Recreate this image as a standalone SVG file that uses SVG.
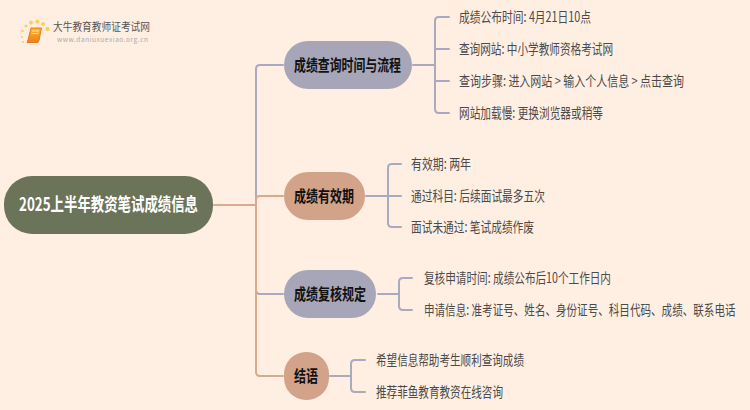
<svg xmlns="http://www.w3.org/2000/svg" width="750" height="410" viewBox="0 0 750 410">
<style>
text{font-family:"Noto Sans CJK SC","Noto Sans",sans-serif}
.leaf{font-size:14px;fill:#4a4a4a}
.head{font-size:16px;font-weight:700;fill:#111}
.c{fill:none;stroke-width:2;stroke-linecap:round}
.p{stroke:#a9a9bf}
.o{stroke:#dba98e}
</style>
<defs>
<linearGradient id="book" x1="0" y1="0" x2="0" y2="1"><stop offset="0" stop-color="#fbb92c"/><stop offset="1" stop-color="#ee7f16"/></linearGradient>
</defs>
<rect width="750" height="410" fill="#ffefe3"/>
<g id="logo">
<g fill="#fbcf5e"><circle cx="37.500" cy="21.500" r="2"/><circle cx="31" cy="22.500" r="2"/><circle cx="43" cy="24" r="2"/><circle cx="47.500" cy="29" r="2.200"/><circle cx="26" cy="26" r="1.600"/><circle cx="22.500" cy="31" r="1.300"/><circle cx="22" cy="37" r="1.100"/><circle cx="23" cy="42" r="1"/></g>
<path d="M31 28h10.500l-2.500 12.500l-1 2h-11l1-2.500z" fill="url(#book)" stroke="#e8791a" stroke-width="1" stroke-linejoin="round"/>
<path d="M32 31h7M31.500 33.500h7" stroke="#ffe29a" stroke-width="1" fill="none"/>
<text x="53" y="31" font-size="11" fill="#555" textLength="97" lengthAdjust="spacingAndGlyphs">大牛教育教师证考试网</text>
<text x="57" y="42" font-size="6.500" fill="#aaa" textLength="91" lengthAdjust="spacing">www.daniuxuexiao.org.cn</text>
</g>
<g id="connectors">
<path class="c o" d="M214 205H256"/>
<path class="c p" d="M283 65H260Q256 65 256 69V205"/>
<path class="c o" d="M283 196H260Q256 196 256 200V205"/>
<path class="c p" d="M256 205V290Q256 294 260 294H283"/>
<path class="c o" d="M256 205V372Q256 376 260 376H283"/>
<path class="c p" d="M413 65H435M449 17H439Q435 17 435 21V109Q435 113 439 113H449M435 49H449M435 81H449"/>
<path class="c p" d="M366 196H388M401 164H392Q388 164 388 168V223Q388 227 392 227H401M388 196H401"/>
<path class="c p" d="M378 294H399M412 278H403Q399 278 399 282V306Q399 310 403 310H412"/>
<path class="c p" d="M330 376H351M365 360H355Q351 360 351 364V388Q351 392 355 392H365"/>
</g>
<g id="root"><rect x="4" y="176" width="209" height="58" rx="28" fill="#6b7359"/><text x="19" y="211" font-size="18" font-weight="700" fill="#fff" textLength="179" lengthAdjust="spacingAndGlyphs">2025上半年教资笔试成绩信息</text></g>
<g id="n1"><rect x="284" y="41" width="128" height="48" rx="24" fill="#a6a6b8"/><text class="head" x="294" y="71" textLength="107" lengthAdjust="spacingAndGlyphs">成绩查询时间与流程</text></g>
<g id="n2"><rect x="284" y="172" width="81" height="48" rx="24" fill="#d3a389"/><text class="head" x="294" y="202" textLength="60" lengthAdjust="spacingAndGlyphs">成绩有效期</text></g>
<g id="n3"><rect x="284" y="270" width="92" height="48" rx="24" fill="#a6a6b8"/><text class="head" x="294" y="300" textLength="72" lengthAdjust="spacingAndGlyphs">成绩复核规定</text></g>
<g id="n4"><rect x="284" y="352" width="45" height="48" rx="22" fill="#d3a389"/><text class="head" x="294" y="382" textLength="24" lengthAdjust="spacingAndGlyphs">结语</text></g>
<g id="l1"><text class="leaf" x="459" y="22" textLength="132" lengthAdjust="spacingAndGlyphs">成绩公布时间: 4月21日10点</text></g>
<g id="l2"><text class="leaf" x="459" y="54" textLength="154" lengthAdjust="spacingAndGlyphs">查询网站: 中小学教师资格考试网</text></g>
<g id="l3"><text class="leaf" x="459" y="86" textLength="225" lengthAdjust="spacingAndGlyphs">查询步骤: 进入网站 &gt; 输入个人信息 &gt; 点击查询</text></g>
<g id="l4"><text class="leaf" x="459" y="118" textLength="144" lengthAdjust="spacingAndGlyphs">网站加载慢: 更换浏览器或稍等</text></g>
<g id="l5"><text class="leaf" x="411" y="169" textLength="60" lengthAdjust="spacingAndGlyphs">有效期: 两年</text></g>
<g id="l6"><text class="leaf" x="411" y="201" textLength="134" lengthAdjust="spacingAndGlyphs">通过科目: 后续面试最多五次</text></g>
<g id="l7"><text class="leaf" x="411" y="232" textLength="123" lengthAdjust="spacingAndGlyphs">面试未通过: 笔试成绩作废</text></g>
<g id="l8"><text class="leaf" x="424" y="283" textLength="187" lengthAdjust="spacingAndGlyphs">复核申请时间: 成绩公布后10个工作日内</text></g>
<g id="l9"><text class="leaf" transform="translate(424 315) scale(.755 1)" x="0" y="0">申请信息: 准考证号、姓名、身份证号、科目代码、成绩、联系电话</text></g>
<g id="l10"><text class="leaf" x="376" y="365" textLength="148" lengthAdjust="spacingAndGlyphs">希望信息帮助考生顺利查询成绩</text></g>
<g id="l11"><text class="leaf" x="376" y="397" textLength="127" lengthAdjust="spacingAndGlyphs">推荐菲鱼教育教资在线咨询</text></g>
</svg>
